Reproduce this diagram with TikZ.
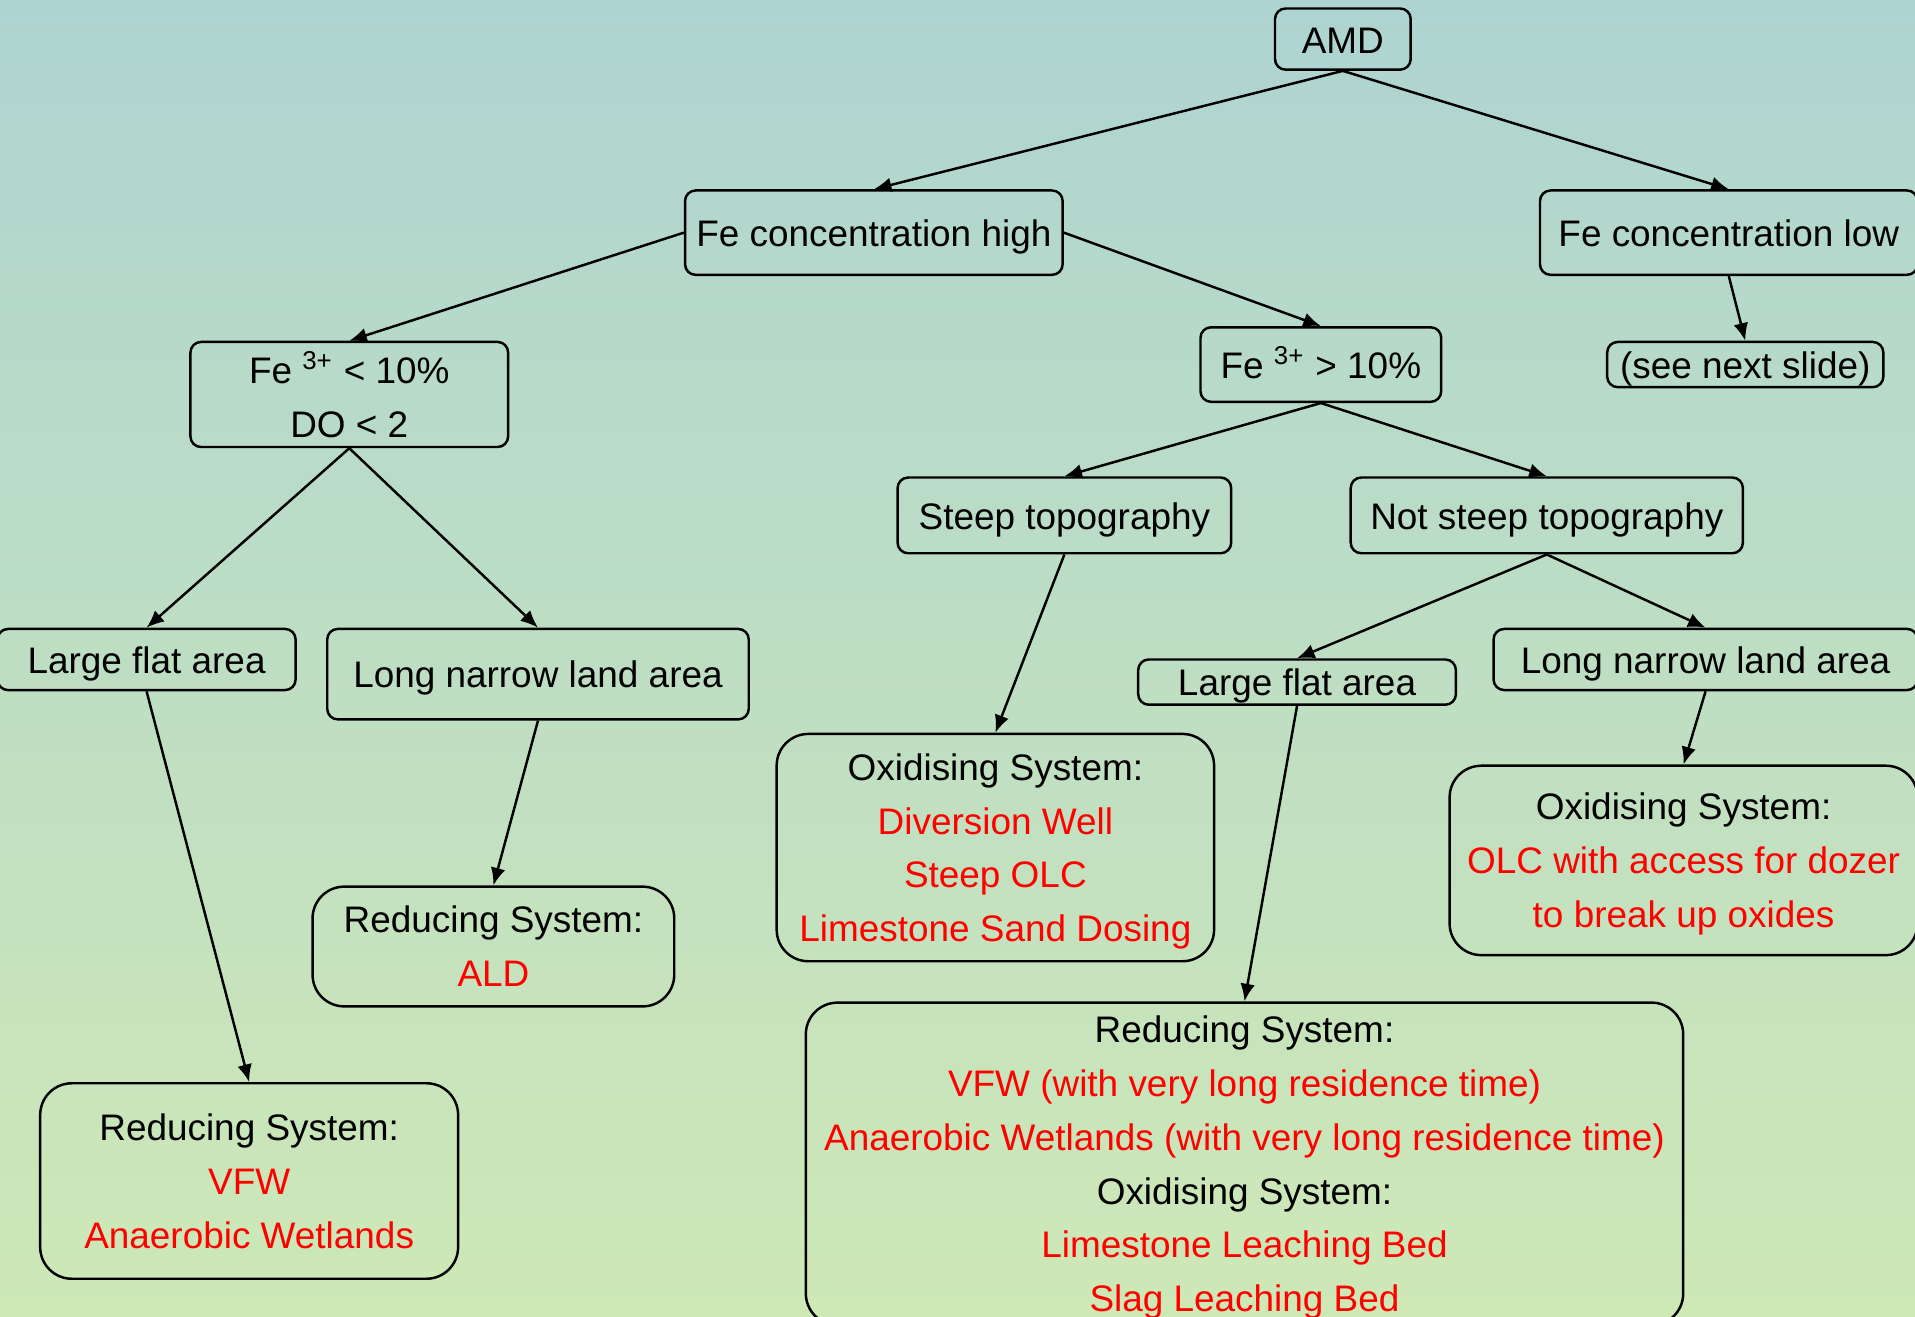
\documentclass[tikz,border=0pt]{standalone}
\usepackage{fontspec}
\setmainfont{Liberation Sans}
\usetikzlibrary{arrows.meta}
\definecolor{bgtop}{RGB}{174,212,209}
\definecolor{bgbot}{RGB}{206,232,182}
\newcommand{\redtxt}[1]{\textcolor{red}{#1}}
\newcommand{\boxstrut}{\rule[-2pt]{0pt}{12pt}}
\tikzset{
	basebox/.style={draw, line width=0.7pt, rounded corners=3pt, align=center, inner sep=0pt,
		font=\fontsize{10.5}{15.3}\selectfont},
	box/.style={basebox, execute at begin node=\boxstrut},
	multibox/.style={basebox, text depth=0pt},
	bigbox/.style={multibox, rounded corners=9pt},
	arr/.style={-{Latex[length=5pt,width=4.2pt]}, line width=0.7pt}
}
\begin{document}
\begin{tikzpicture}[x=0.012213cm, y=-0.012213cm]
	% Background
	\useasboundingbox (0,0) rectangle (1568,1078);
	\fill[top color=bgtop, bottom color=bgbot] (0,0) rectangle (1568,1078);
	% Top levels
	\node[box, minimum width=1.356cm, minimum height=0.611cm] (amd) at (1099.5,32) {AMD};
	\node[box, minimum width=3.774cm, minimum height=0.843cm] (fehigh) at (715.5,190.5) {Fe concentration high};
	\node[box, minimum width=3.774cm, minimum height=0.843cm] (felow) at (1415.5,190.5) {Fe concentration low};
	\node[multibox, minimum width=3.175cm, minimum height=1.050cm] (felt) at (286,323) {Fe \textsuperscript{3+} < 10\%\\DO < 2};
	\node[box, minimum width=2.406cm, minimum height=0.745cm] (fegt) at (1081.5,298.5) {Fe \textsuperscript{3+} > 10\%};
	\node[box, minimum width=2.760cm, minimum height=0.452cm] (next) at (1429,298.5) {(see next slide)};
	% Topography and land
	\node[box, minimum width=3.334cm, minimum height=0.757cm] (steep) at (871.5,422) {Steep topography};
	\node[box, minimum width=3.920cm, minimum height=0.757cm] (notsteep) at (1266.5,422) {Not steep topography};
	\node[box, minimum width=2.980cm, minimum height=0.611cm] (flatL) at (120,540) {Large flat area};
	\node[box, minimum width=4.213cm, minimum height=0.904cm] (narrowL) at (440.5,552) {Long narrow land area};
	\node[box, minimum width=3.175cm, minimum height=0.452cm] (flatR) at (1062,558.5) {Large flat area};
	\node[box, minimum width=4.238cm, minimum height=0.611cm] (narrowR) at (1396.5,540) {Long narrow land area};
	% Systems
	\node[bigbox, minimum width=4.372cm, minimum height=2.272cm] (oxA) at (815,694)
		{Oxidising System:\\\redtxt{Diversion Well}\\\redtxt{Steep OLC}\\\redtxt{Limestone Sand Dosing}};
	\node[bigbox, minimum width=4.677cm, minimum height=1.893cm] (oxB) at (1378.5,704.5)
		{Oxidising System:\\\redtxt{OLC with access for dozer}\\\redtxt{to break up oxides}};
	\node[bigbox, minimum width=3.615cm, minimum height=1.197cm] (redA) at (404,775)
		{Reducing System:\\\redtxt{ALD}};
	\node[bigbox, minimum width=4.177cm, minimum height=1.954cm] (redB) at (204,967)
		{Reducing System:\\\redtxt{VFW}\\\redtxt{Anaerobic Wetlands}};
	\node[bigbox, minimum width=8.769cm, minimum height=3.224cm] (big) at (1019,953)
		{Reducing System:\\\redtxt{VFW (with very long residence time)}\\\redtxt{Anaerobic Wetlands (with very long residence time)}\\Oxidising System:\\\redtxt{Limestone Leaching Bed}\\\redtxt{Slag Leaching Bed}};
	% Arrows
	\draw[arr] (amd.south) -- (fehigh.north);
	\draw[arr] (amd.south) -- (felow.north);
	\draw[arr] (fehigh.west) -- (felt.north);
	\draw[arr] (fehigh.east) -- (fegt.north);
	\draw[arr] (felow.south) -- (next.north);
	\draw[arr] (felt.south) -- (flatL.north);
	\draw[arr] (felt.south) -- (narrowL.north);
	\draw[arr] (fegt.south) -- (steep.north);
	\draw[arr] (fegt.south) -- (notsteep.north);
	\draw[arr] (steep.south) -- (oxA.north);
	\draw[arr] (notsteep.south) -- (flatR.north);
	\draw[arr] (notsteep.south) -- (narrowR.north);
	\draw[arr] (flatL.south) -- (redB.north);
	\draw[arr] (narrowL.south) -- (redA.north);
	\draw[arr] (flatR.south) -- (big.north);
	\draw[arr] (narrowR.south) -- (oxB.north);
\end{tikzpicture}
\end{document}
